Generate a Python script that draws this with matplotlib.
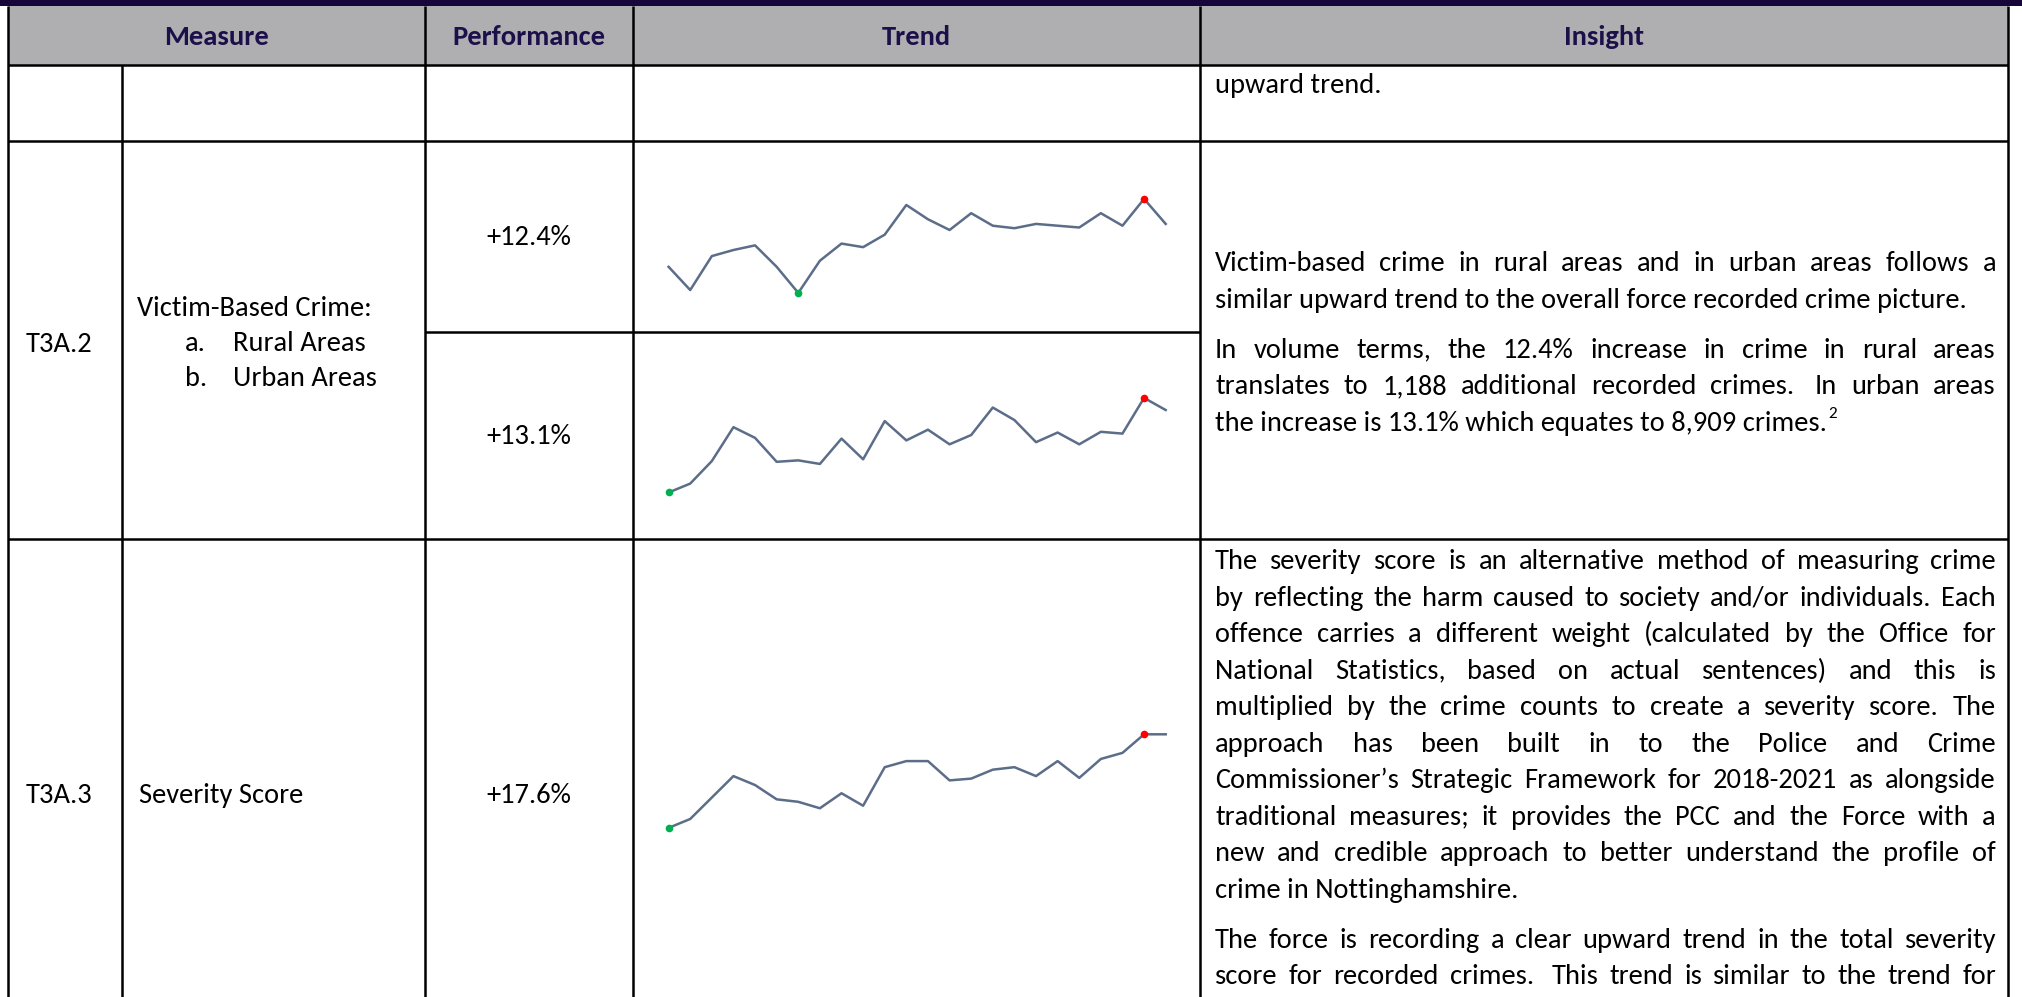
import matplotlib
matplotlib.use('Agg')
import matplotlib.pyplot as plt
from matplotlib import font_manager
from matplotlib.patches import Rectangle

W, H = 2022, 997

# sparkline data (relative levels, 24 periods each)
rural = [145, 80, 175, 192, 205, 145, 72, 162, 210, 200, 235, 318,
         278, 248, 295, 260, 253, 265, 260, 255, 295, 260, 335, 265]
urban = [17, 42, 105, 200, 170, 103, 107, 97, 168, 110, 217, 163,
         193, 152, 178, 255, 220, 158, 185, 152, 187, 182, 282, 248]
severity = [30, 55, 115, 175, 150, 110, 103, 85, 127, 92, 200, 217,
            217, 163, 168, 193, 200, 175, 217, 170, 223, 240, 292, 292]

headers = ['Measure', 'Performance', 'Trend', 'Insight']
ids = ['T3A.2', 'T3A.3']
performance = ['+12.4%', '+13.1%', '+17.6%']

insight_top = ['upward trend.']
insight_victim = [
    ['Victim-based crime in rural areas and in urban areas follows a',
     'similar upward trend to the overall force recorded crime picture.'],
    ['In volume terms, the 12.4% increase in crime in rural areas',
     'translates to 1,188 additional recorded crimes.  In urban areas',
     'the increase is 13.1% which equates to 8,909 crimes.'],
]
insight_severity = [
    ['The severity score is an alternative method of measuring crime',
     'by reflecting the harm caused to society and/or individuals. Each',
     'offence carries a different weight (calculated by the Office for',
     'National Statistics, based on actual sentences) and this is',
     'multiplied by the crime counts to create a severity score. The',
     'approach has been built in to the Police and Crime',
     'Commissioner\u2019s Strategic Framework for 2018-2021 as alongside',
     'traditional measures; it provides the PCC and the Force with a',
     'new and credible approach to better understand the profile of',
     'crime in Nottinghamshire.'],
    ['The force is recording a clear upward trend in the total severity',
     'score for recorded crimes.  This trend is similar to the trend for'],
]

available = {f.name for f in font_manager.fontManager.ttflist}
font = 'Carlito' if 'Carlito' in available else 'Lato'
fsize = 20.5 if font == 'Carlito' else 18.5

txt = dict(fontfamily=font, fontsize=fsize, color='black', va='baseline')
head = dict(fontfamily=font, fontsize=fsize, color='#1b1049',
            fontweight='bold', ha='center', va='center')

fig = plt.figure(figsize=(W / 100, H / 100), dpi=100)
ax = fig.add_axes([0, 0, 1, 1])
ax.set_xlim(0, W)
ax.set_ylim(H, 0)
ax.axis('off')
renderer = fig.canvas.get_renderer()


def text_width(s):
    t = ax.text(0, 500, s, **txt)
    w = t.get_window_extent(renderer).width
    t.remove()
    return w


# column borders
xl, xid, xperf, xtrend, xins, xr = 8, 122, 425, 633, 1200, 2008
lw = 1.8

ax.add_patch(Rectangle((0, 0), W, 6, color='#17063a', lw=0))
ax.add_patch(Rectangle((xl, 6), xr - xl, 59, color='#afafb1', lw=0))

for x, y0 in [(xl, 6), (xid, 65), (xperf, 6), (xtrend, 6), (xins, 6), (xr, 6)]:
    ax.plot([x, x], [y0, H], color='black', lw=lw, solid_capstyle='butt')
for y, x0, x1 in [(65, xl, xr), (141, xl, xr), (332, xperf, xins), (539, xl, xr)]:
    ax.plot([x0, x1], [y, y], color='black', lw=lw, solid_capstyle='butt')

# header
centers = [(xl + xperf) / 2, (xperf + xtrend) / 2, (xtrend + xins) / 2, (xins + xr) / 2]
for c, h in zip(centers, headers):
    ax.text(c, 37, h, **head)

# measure / id cells
ax.text(26, 352, ids[0], **txt)
ax.text(137, 316, 'Victim-Based Crime:', **txt)
ax.text(185, 351, 'a.', **txt)
ax.text(233, 351, 'Rural Areas', **txt)
ax.text(185, 386, 'b.', **txt)
ax.text(233, 386, 'Urban Areas', **txt)
ax.text(26, 803, ids[1], **txt)
ax.text(139, 803, 'Severity Score', **txt)

for y, p in zip([245, 444, 803], performance):
    ax.text((xperf + xtrend) / 2, y, p, ha='center', **txt)

# justified paragraphs
LINE = 36.5
PGAP = 50
tx0, tx1 = 1215, 1996
space_w = text_width('a a') - 2 * text_width('a')


def paragraph(lines, y0, last_justified=False):
    end = None
    for i, line in enumerate(lines):
        y = y0 + i * LINE
        if i == len(lines) - 1 and not last_justified:
            t = ax.text(tx0, y, line, **txt)
            end = (tx0 + t.get_window_extent(renderer).width, y)
            continue
        # keep double spaces as extra room after a word
        words, extra = [], []
        for tok in line.split(' '):
            if tok == '':
                extra[-1] += 1
            else:
                words.append(tok)
                extra.append(0)
        arts = [ax.text(0, y, w, **txt) for w in words]
        widths = [a.get_window_extent(renderer).width for a in arts]
        gap = (tx1 - tx0 - sum(widths) - sum(extra) * space_w) / (len(words) - 1)
        x = tx0
        for a, w, e in zip(arts, widths, extra):
            a.set_x(x)
            x += w + gap + e * space_w
        end = (x - gap, y)
    return y0 + (len(lines) - 1) * LINE, end


paragraph(insight_top, 93)
yl, _ = paragraph(insight_victim[0], 271)
yl, end = paragraph(insight_victim[1], yl + PGAP)
ax.text(end[0] + 1, end[1] - 13, '2', fontfamily=font, fontsize=fsize * 0.6, va='baseline')
yl, _ = paragraph(insight_severity[0], 569)
paragraph(insight_severity[1], yl + PGAP, last_justified=True)

# sparklines
x0s, x1s = 668.6, 1165.7
spans = [(198.9, 292.9), (397.9, 492.5), (734.3, 827.9)]
for vals, (ytop, ybot) in zip([rural, urban, severity], spans):
    sp = fig.add_axes([x0s / W, 1 - ybot / H, (x1s - x0s) / W, (ybot - ytop) / H])
    idx = list(range(len(vals)))
    sp.plot(idx, vals, color='#5b6d88', lw=1.8, clip_on=False)
    lo = vals.index(min(vals))
    hi = vals.index(max(vals))
    sp.plot(lo, vals[lo], 'o', color='#00b050', ms=5.5, mew=0, clip_on=False)
    sp.plot(hi, vals[hi], 'o', color='#ff0000', ms=5.5, mew=0, clip_on=False)
    sp.set_xlim(0, len(vals) - 1)
    sp.set_ylim(min(vals), max(vals))
    sp.axis('off')

fig.savefig('out.png', dpi=100)
